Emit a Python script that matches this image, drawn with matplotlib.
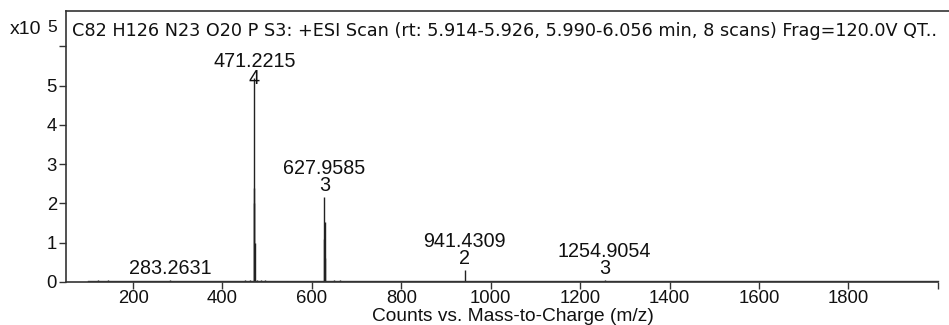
import numpy as np
import matplotlib.pyplot as plt

plt.rcParams['font.family'] = ['Liberation Sans', 'DejaVu Sans']

# stick spectrum (intensity in units of 1e5 counts)
mz = [121.0, 144.0, 283.2631, 451.0, 462.0, 470.97, 471.2215, 471.47, 471.72,
      478.0, 486.0, 495.0, 545.0, 590.0, 627.62, 627.9585, 628.29, 628.63,
      650.0, 662.0, 941.4309, 1254.9054]
counts = [0.05, 0.05, 0.06, 0.05, 0.04, 2.40, 5.20, 2.00, 1.00,
          0.06, 0.05, 0.04, 0.03, 0.03, 1.10, 2.17, 1.53, 0.60,
          0.05, 0.04, 0.30, 0.06]

# labelled peaks: m/z text and charge state
label_mz = [283.2631, 471.2215, 627.9585, 941.4309, 1254.9054]
label_z = [None, 4, 3, 2, 3]

baseline_range = [100, 2000]
baseline_level = 0.03

title = ('C82 H126 N23 O20 P S3: +ESI Scan (rt: 5.914-5.926, 5.990-6.056 min, '
         '8 scans) Frag=120.0V QT..')

fig = plt.figure(figsize=(9.49, 3.25), dpi=100)
ax = fig.add_axes([66 / 949, 43 / 325, 883 / 949, 271 / 325])

ax.plot(baseline_range, [baseline_level, baseline_level], color='#333333', lw=1.0)
ax.vlines(mz, 0, counts, color='#222222', lw=1.0)

for m, z in zip(label_mz, label_z):
    h = counts[mz.index(m)]
    txt = '%.4f' % m if z is None else '%.4f\n%d' % (m, z)
    off = -7.5 if h > 5 else 1.5
    ax.annotate(txt, (m, h), xytext=(0, off), textcoords='offset points',
                ha='center', va='bottom', fontsize=14.2, linespacing=0.87,
                color='#111111')

ax.set_xlim(50, 2025)
ax.set_ylim(0, 6.9)
ax.set_xticks([200, 400, 600, 800, 1000, 1200, 1400, 1600, 1800, 2000])
ax.set_xticklabels(['200', '400', '600', '800', '1000', '1200', '1400',
                    '1600', '1800', ''])
ax.set_yticks([0, 1, 2, 3, 4, 5, 6])
ax.set_yticklabels(['0', '1', '2', '3', '4', '5', ''])
ax.tick_params(direction='out', length=5, width=1, labelsize=13.3,
               color='#333333', labelcolor='#111111', pad=1.5)
ax.tick_params(axis='x', pad=0.5)

ax.spines['right'].set_visible(False)
ax.spines['bottom'].set_bounds(50, 2000)
for s in ['left', 'top', 'bottom']:
    ax.spines[s].set_color('#333333')
    ax.spines[s].set_linewidth(1.2)

ax.text(6 / 883, 0.908, title, transform=ax.transAxes, fontsize=12.7,
        family='DejaVu Sans', ha='left', va='baseline', color='#111111')
fig.text(10 / 949, 1 - 34 / 325, 'x10', fontsize=14, ha='left', va='baseline',
         color='#111111')
fig.text(47 / 949, 1 - 32 / 325, '5', fontsize=12.5, ha='left', va='baseline',
         color='#111111')
fig.text(513 / 949, 1 - 321 / 325, 'Counts vs. Mass-to-Charge (m/z)',
         fontsize=13.8, ha='center', va='baseline', color='#111111')

fig.savefig('out.png', dpi=100)
